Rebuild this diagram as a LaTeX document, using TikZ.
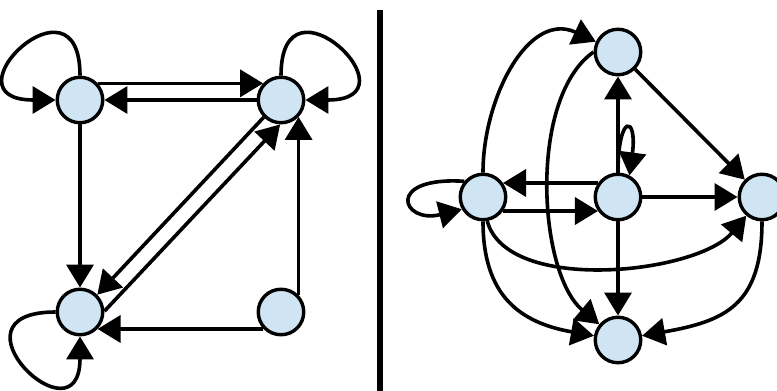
\documentclass[tikz,border=0pt]{standalone}
\usetikzlibrary{arrows.meta}
\definecolor{vtxfill}{HTML}{CFE5F3}
\tikzset{
  vtx/.style={draw=black,line width=3.4pt,circle,fill=vtxfill,
              minimum size=45.5pt,inner sep=0pt},
  flow/.style={-{Triangle[length=23pt,width=27pt]},line width=3.6pt},
  divider/.style={line width=6pt},
}

\begin{document}
\begin{tikzpicture}[x=1pt,y=1pt]
  \useasboundingbox (0,0) rectangle (777,-391);

  % left graph
  \node[vtx] (A) at (80,-100)  {};
  \node[vtx] (B) at (281,-100) {};
  \node[vtx] (C) at (80,-312)  {};
  \node[vtx] (D) at (281,-312) {};

  \draw[flow] (A.43) -- (B.137);
  \draw[flow] (B) -- (A);
  \draw[flow] (A) -- (C);
  \draw[flow] (B.225) -- (C.45);
  \draw[flow] (C.2) -- (B.-92);
  \draw[flow] (D.44) -- (B.-44);
  \draw[flow] (D.-136) -- (C.-44);
  \draw[flow] (A.north) .. controls +(0,110) and +(-115,0) .. (A.west);
  \draw[flow] (B.north) .. controls +(0,110) and +(115,0) .. (B.east);
  \draw[flow] (C.west) .. controls +(-115,0) and +(0,-110) .. (C.south);

  % separator
  \coordinate (sepTop) at (380,-10);
  \coordinate (sepBot) at (380,-391);
  \draw[divider] (sepTop) -- (sepBot);

  % right graph
  \node[vtx] (T)  at (618,-52)  {};
  \node[vtx] (L)  at (483,-197) {};
  \node[vtx] (M)  at (618,-197) {};
  \node[vtx] (R)  at (762,-197) {};
  \node[vtx] (Bo) at (618,-340) {};

  \draw[flow] (M) -- (T);
  \draw[flow] (M) -- (R);
  \draw[flow] (M) -- (Bo);
  \draw[flow] (T) -- (R);
  \draw[flow] (M.145) -- (L.35);
  \draw[flow] (L.-35) -- (M.-145);
  \draw[flow] (M.north) .. controls +(0,60) and +(8,60) .. (M.62);
  \draw[flow] (L.140) .. controls +(-80,5) and +(-60,-15) .. (L.-150);
  \draw[flow] (L) to[out=90,in=155,looseness=1.1] (T);
  \draw[flow] (T.west) to[out=215,in=140,looseness=0.75] (Bo);
  \draw[flow] (L) to[out=-90,in=170,looseness=1.2] (Bo);
  \draw[flow] (L.-80) to[out=-75,in=-130,looseness=0.75] (R);
  \draw[flow] (R) to[out=-90,in=10,looseness=1.3] (Bo);
\end{tikzpicture}
\end{document}
